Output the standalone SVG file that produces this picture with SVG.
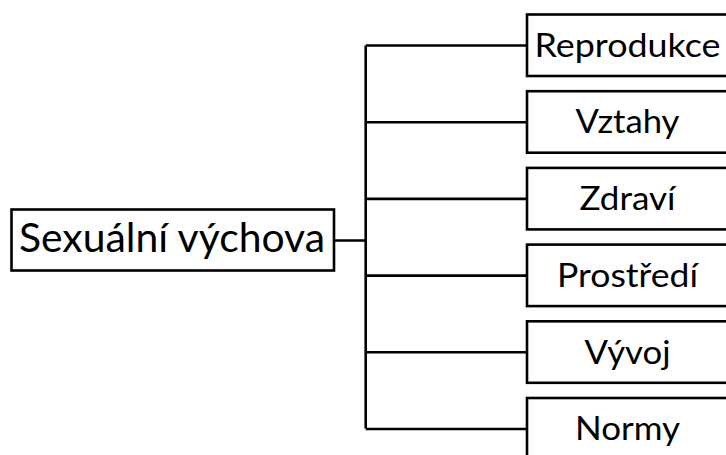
<svg xmlns="http://www.w3.org/2000/svg" width="726" height="455" viewBox="0 0 726 455">
<style>
.box{fill:#fff;stroke:#000;stroke-width:2.6}
.ln{fill:none;stroke:#000;stroke-width:2.6}
.t{font-family:Lato,"Liberation Sans",sans-serif;fill:#000;text-anchor:middle}
.s{font-size:33.5px}
.m{font-size:40.5px}
</style>
<rect width="726" height="455" fill="#fff"/>
<g id="connectors">
<path class="ln" d="M334 240.5H365.7M365.7 45.5V428.5M365.7 45.5H527M365.7 122.2H527M365.7 198.9H527M365.7 275.6H527M365.7 352.3H527M365.7 429H527"/>
</g>
<g id="root">
<rect class="box" x="11.5" y="209.5" width="322.5" height="61"/>
<text class="t m" x="172" y="252" textLength="306" lengthAdjust="spacingAndGlyphs">Sexuální výchova</text>
</g>
<g id="n1">
<rect class="box" x="527" y="14.5" width="201" height="61.5"/>
<text class="t s" x="627.5" y="56.7" textLength="186" lengthAdjust="spacingAndGlyphs">Reprodukce</text>
</g>
<g id="n2">
<rect class="box" x="527" y="91.2" width="201" height="61.5"/>
<text class="t s" x="627.5" y="133.4" textLength="104" lengthAdjust="spacingAndGlyphs">Vztahy</text>
</g>
<g id="n3">
<rect class="box" x="527" y="167.9" width="201" height="61.5"/>
<text class="t s" x="627.5" y="210.1" textLength="96" lengthAdjust="spacingAndGlyphs">Zdraví</text>
</g>
<g id="n4">
<rect class="box" x="527" y="244.6" width="201" height="61.5"/>
<text class="t s" x="627.5" y="286.8" textLength="141" lengthAdjust="spacingAndGlyphs">Prostředí</text>
</g>
<g id="n5">
<rect class="box" x="527" y="321.3" width="201" height="61.5"/>
<text class="t s" x="627.5" y="363.5" textLength="86" lengthAdjust="spacingAndGlyphs">Vývoj</text>
</g>
<g id="n6">
<rect class="box" x="527" y="398" width="201" height="61.5"/>
<text class="t s" x="627.5" y="440.2" textLength="105" lengthAdjust="spacingAndGlyphs">Normy</text>
</g>
</svg>
